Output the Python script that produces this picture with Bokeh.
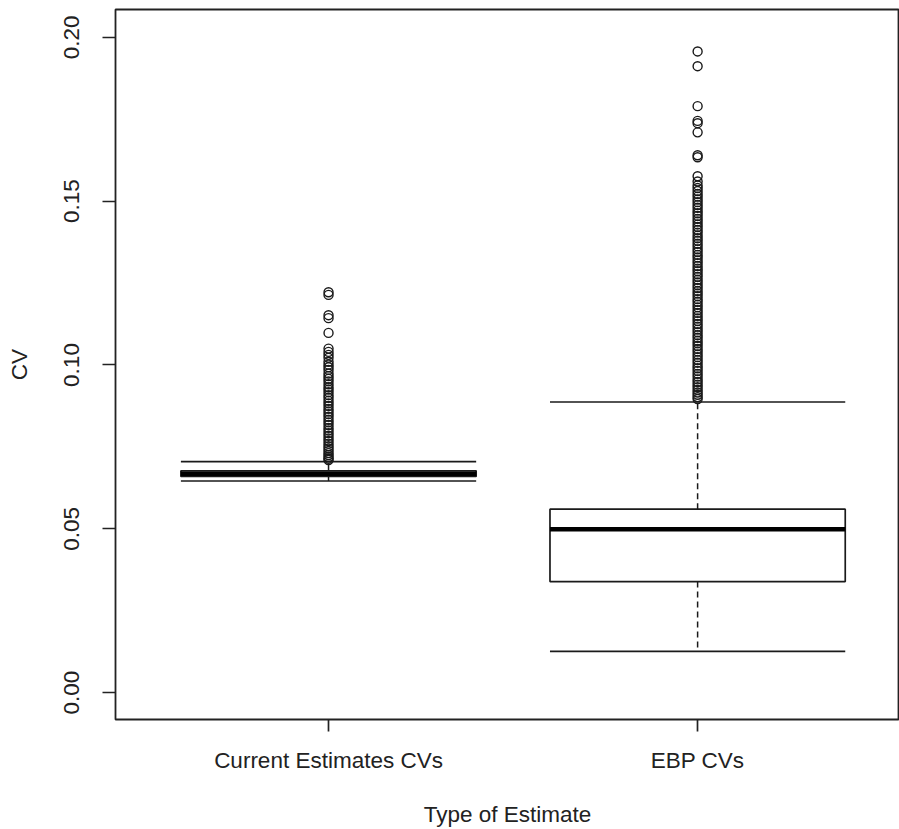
from bokeh.plotting import figure
from bokeh.models import FixedTicker, NumeralTickFormatter, Range1d, ColumnDataSource
from bokeh.embed import file_html
from bokeh.resources import INLINE

# ---- data ----
categories = ["Current Estimates CVs", "EBP CVs"]
lower_whisker = [0.0646, 0.0126]
q1 = [0.0660, 0.0339]
median = [0.0668, 0.0499]
q3 = [0.0677, 0.0560]
upper_whisker = [0.0705, 0.0887]

outliers_current = [
    0.1222, 0.1214, 0.1152, 0.1143, 0.1098, 0.1050,
    0.1040, 0.1031, 0.1022, 0.1010, 0.1001, 0.0993, 0.0985, 0.0974, 0.0966,
    0.0958, 0.0950, 0.0941, 0.0932, 0.0925, 0.0917, 0.0908, 0.0900, 0.0891,
    0.0883, 0.0875, 0.0866, 0.0858, 0.0850, 0.0842, 0.0833, 0.0825, 0.0817,
    0.0808, 0.0800, 0.0792, 0.0784, 0.0776, 0.0768, 0.0760, 0.0752, 0.0745,
    0.0738, 0.0731, 0.0725, 0.0719, 0.0714, 0.0710,
]
outliers_ebp = [
    0.1957, 0.1912, 0.1790, 0.1745, 0.1738, 0.1710, 0.1640, 0.1634, 0.1576,
    0.1560, 0.1548, 0.1540, 0.1531, 0.1522, 0.1514, 0.1505, 0.1497, 0.1488,
    0.1480, 0.1471, 0.1463, 0.1455, 0.1446, 0.1438, 0.1429, 0.1421, 0.1412,
    0.1404, 0.1395, 0.1387, 0.1379, 0.1370, 0.1362, 0.1353, 0.1345, 0.1336,
    0.1328, 0.1319, 0.1311, 0.1302, 0.1294, 0.1286, 0.1277, 0.1269, 0.1260,
    0.1252, 0.1243, 0.1235, 0.1226, 0.1218, 0.1210, 0.1201, 0.1193, 0.1184,
    0.1176, 0.1167, 0.1159, 0.1150, 0.1142, 0.1134, 0.1125, 0.1117, 0.1108,
    0.1100, 0.1091, 0.1083, 0.1074, 0.1066, 0.1058, 0.1049, 0.1041, 0.1032,
    0.1024, 0.1015, 0.1007, 0.0998, 0.0990, 0.0982, 0.0973, 0.0965, 0.0956,
    0.0948, 0.0940, 0.0932, 0.0924, 0.0916, 0.0909, 0.0902, 0.0896,
]
y_ticks = [0.00, 0.05, 0.10, 0.15, 0.20]

# ---- build ----
BOX_W = 0.8
pos = [i + 1 for i in range(len(categories))]
left = [x - BOX_W / 2 for x in pos]
right = [x + BOX_W / 2 for x in pos]

src = ColumnDataSource(dict(x=pos, left=left, right=right, lw=lower_whisker, q1=q1,
                            med=median, q3=q3, uw=upper_whisker))

out_x = [1] * len(outliers_current) + [2] * len(outliers_ebp)
out_y = outliers_current + outliers_ebp

FONT = "Liberation Sans"
FS = "22.5px"
TXT = "#222222"
p = figure(width=899, height=829, output_backend="svg", toolbar_location=None,
           x_range=Range1d(0.4228, 2.547), y_range=Range1d(-0.0082, 0.2085),
           min_border_left=115, min_border_right=0, min_border_top=9,
           min_border_bottom=100)

p.xgrid.visible = False
p.ygrid.visible = False
p.outline_line_color = "#222222"
p.outline_line_width = 1.8
p.background_fill_color = "white"
p.border_fill_color = "white"

LINE = "#1a1a1a"
# whiskers (dashed)
p.segment(x0="x", y0="q3", x1="x", y1="uw", source=src, line_color=LINE,
          line_width=1.5, line_dash="6 4")
p.segment(x0="x", y0="q1", x1="x", y1="lw", source=src, line_color=LINE,
          line_width=1.5, line_dash="6 4")
# staples
p.segment(x0="left", y0="uw", x1="right", y1="uw", source=src, line_color=LINE, line_width=1.7)
p.segment(x0="left", y0="lw", x1="right", y1="lw", source=src, line_color=LINE, line_width=1.7)
# boxes
p.quad(left="left", right="right", bottom="q1", top="q3", source=src,
       fill_color="white", line_color=LINE, line_width=1.7)
# medians
p.segment(x0="left", y0="med", x1="right", y1="med", source=src, line_color="black", line_width=4.5)
# outliers
p.scatter(out_x, out_y, marker="circle", size=9, fill_color=None,
          line_color=LINE, line_width=1.4)

# axes
xa = p.xaxis[0]
xa.ticker = FixedTicker(ticks=pos)
xa.major_label_overrides = {x: c for x, c in zip(pos, categories)}
xa.minor_tick_line_color = None
xa.axis_line_color = None
xa.major_tick_out = 12
xa.major_tick_in = 0
xa.major_tick_line_color = TXT
xa.major_tick_line_width = 1.7
xa.major_label_standoff = 16
xa.major_label_text_font = FONT
xa.major_label_text_font_size = FS
xa.major_label_text_color = TXT
xa.axis_label = "Type of Estimate"
xa.axis_label_text_font = FONT
xa.axis_label_text_font_size = FS
xa.axis_label_text_font_style = "normal"
xa.axis_label_text_color = TXT
xa.axis_label_standoff = 26

ya = p.yaxis[0]
ya.ticker = FixedTicker(ticks=y_ticks)
ya.formatter = NumeralTickFormatter(format="0.00")
ya.minor_tick_line_color = None
ya.axis_line_color = None
ya.major_tick_out = 13
ya.major_tick_in = 0
ya.major_tick_line_color = TXT
ya.major_tick_line_width = 1.7
ya.major_label_orientation = "vertical"
ya.major_label_standoff = 23
ya.major_label_text_font = FONT
ya.major_label_text_font_size = FS
ya.major_label_text_color = TXT
ya.axis_label = "CV"
ya.axis_label_text_font = FONT
ya.axis_label_text_font_size = FS
ya.axis_label_text_font_style = "normal"
ya.axis_label_text_color = TXT
ya.axis_label_standoff = 30

open("out.html", "w").write(file_html(p, INLINE))
